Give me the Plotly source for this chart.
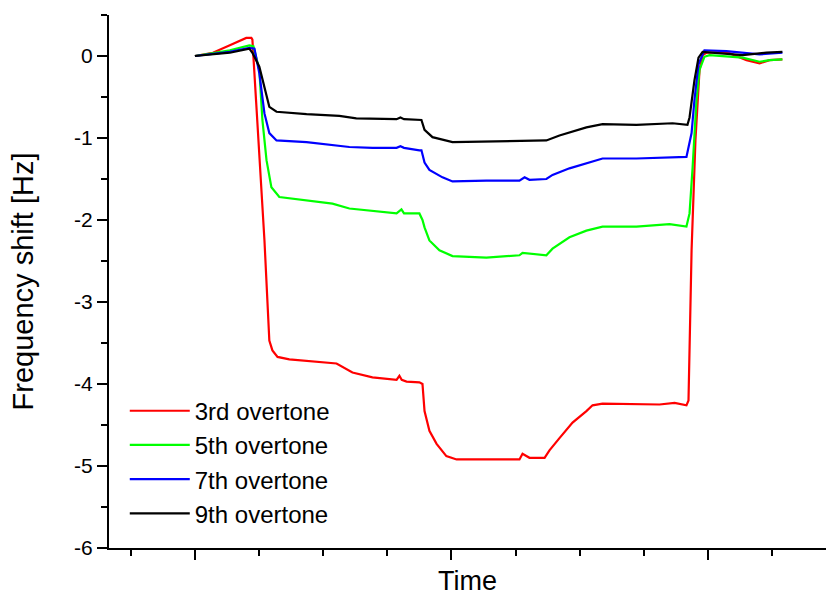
import plotly.graph_objects as go

# Time axis (arbitrary units; major ticks every 100, no labels shown)
t3 = [0, 7, 13.6, 20, 22.0, 22.4, 27.1, 29.0, 30.2, 32.2, 36.8, 43.5, 51.3, 55.2, 61.4, 69.2, 78.6, 79.7, 80.6,
      82.5, 87.5, 88.7, 89.5, 91.4, 94.2, 98.0, 102.0, 113.6, 126.5, 127.7, 130.4, 136.3, 138.2, 142.1, 147.2,
      152.6, 155.0, 158.9, 172.1, 181.1, 187.0, 191.6, 192.4, 193.6, 195.1, 196.7, 197.9, 199.4, 207.2, 215.0,
      220.1, 224.0, 229.0]
f3 = [0, 0.04, 0.13, 0.22, 0.22, 0.20, -2.25, -3.47, -3.59, -3.67, -3.70, -3.72, -3.74, -3.75, -3.86, -3.92,
      -3.95, -3.90, -3.95, -3.97, -3.98, -4.00, -4.33, -4.57, -4.73, -4.88, -4.92, -4.92, -4.92, -4.85, -4.90,
      -4.90, -4.81, -4.66, -4.47, -4.33, -4.26, -4.24, -4.25, -4.25, -4.23, -4.26, -4.20, -2.37, -1.03, -0.17,
      0.01, 0.04, 0.05, -0.05, -0.09, -0.05, -0.04]

t5 = [0, 13.6, 21.2, 22.8, 25.1, 26.3, 27.9, 29.8, 32.9, 43.5, 53.6, 60.2, 69.2, 78.6, 80.5, 81.5, 87.5, 88.7,
      89.5, 91.4, 95.3, 100.4, 113.6, 126.5, 127.7, 137.0, 139.4, 146.0, 152.6, 158.9, 172.1, 185.0, 191.6,
      192.8, 194.0, 195.5, 196.7, 198.6, 200.6, 213.5, 220.1, 224.0, 229.0]
f5 = [0, 0.07, 0.13, 0.12, -0.17, -0.78, -1.27, -1.60, -1.72, -1.76, -1.80, -1.86, -1.89, -1.92, -1.87, -1.92,
      -1.92, -2.00, -2.09, -2.25, -2.37, -2.44, -2.46, -2.43, -2.40, -2.43, -2.35, -2.21, -2.13, -2.08, -2.08,
      -2.05, -2.08, -1.92, -1.36, -0.54, -0.17, -0.01, 0.01, -0.02, -0.07, -0.05, -0.04]

t7 = [0, 13.6, 21.2, 23.2, 25.1, 27.1, 29.0, 31.8, 43.5, 55.2, 60.2, 69.2, 78.6, 80.1, 81.5, 87.5, 88.3, 89.5,
      91.4, 96.5, 100.4, 113.6, 126.5, 128.5, 130.4, 137.0, 139.4, 146.0, 152.6, 158.9, 172.1, 185.0, 191.6,
      193.6, 194.7, 196.3, 198.6, 207.2, 220.1, 229.0]
f7 = [0, 0.05, 0.10, 0.09, -0.21, -0.70, -0.94, -1.03, -1.05, -1.09, -1.11, -1.12, -1.12, -1.10, -1.12, -1.15,
      -1.15, -1.30, -1.39, -1.48, -1.53, -1.52, -1.52, -1.48, -1.51, -1.50, -1.45, -1.37, -1.31, -1.25, -1.25,
      -1.24, -1.23, -0.94, -0.54, -0.10, 0.07, 0.06, 0.02, 0.04]

t9 = [0, 13.6, 21.2, 22.4, 25.1, 27.1, 29.0, 31.8, 43.5, 56.3, 62.9, 78.6, 80.1, 81.5, 88.3, 89.5, 92.6, 100.4,
      126.5, 137.0, 142.1, 152.6, 158.9, 172.1, 186.2, 192.0, 192.8, 194.7, 196.3, 197.9, 213.5, 222.8, 229.0]
f9 = [0, 0.04, 0.09, 0.04, -0.13, -0.38, -0.62, -0.68, -0.71, -0.73, -0.76, -0.77, -0.75, -0.77, -0.78, -0.90,
      -0.99, -1.05, -1.04, -1.03, -0.97, -0.87, -0.83, -0.84, -0.82, -0.84, -0.75, -0.30, -0.02, 0.05, 0.01,
      0.04, 0.05]

names = ["3rd overtone", "5th overtone", "7th overtone", "9th overtone"]
colors = ["#FF0000", "#00FF00", "#0000FF", "#000000"]
series = [(t3, f3), (t5, f5), (t7, f7), (t9, f9)]

y_tickvals = [-6, -5, -4, -3, -2, -1, 0]
y_ticktext = ["-6", "-5", "-4", "-3", "-2", "-1", "0"]

FONT = "Liberation Sans, Arial, sans-serif"

fig = go.Figure()
for (t, f), n, c in zip(series, names, colors):
    fig.add_trace(go.Scatter(x=t, y=f, mode="lines", name=n,
                             line=dict(color=c, width=2.2)))

fig.update_layout(
    width=827, height=596,
    margin=dict(l=109, r=1, t=15, b=48),
    paper_bgcolor="white", plot_bgcolor="white",
    font=dict(family=FONT, color="black"),
    showlegend=True,
    legend=dict(x=0.022, y=0.299, xanchor="left", yanchor="top",
                bgcolor="rgba(0,0,0,0)", font=dict(size=24, family=FONT),
                tracegroupgap=0, itemwidth=60, traceorder="normal"),
    xaxis=dict(range=[-33.5, 246], showgrid=False, zeroline=False, automargin=False,
               showline=True, linecolor="black", linewidth=2,
               ticks="outside", tickmode="linear", tick0=0, dtick=100,
               ticklen=10, tickwidth=2, tickcolor="black", showticklabels=False,
               minor=dict(ticks="outside", tickmode="linear", tick0=0, dtick=25,
                          ticklen=6, tickwidth=2, tickcolor="black", showgrid=False),
               title=dict(text="Time", font=dict(size=27, family=FONT), standoff=25)),
    yaxis=dict(range=[-6, 0.5], showgrid=False, zeroline=False, automargin=False,
               showline=True, linecolor="black", linewidth=2,
               ticks="outside", tickmode="array", tickvals=y_tickvals, ticktext=y_ticktext,
               ticklen=10, tickwidth=2, tickcolor="black",
               tickfont=dict(size=21, family=FONT),
               minor=dict(ticks="outside", tickmode="linear", tick0=0, dtick=0.5,
                          ticklen=6, tickwidth=2, tickcolor="black", showgrid=False),
               title=dict(text="Frequency shift [Hz]", font=dict(size=29, family=FONT), standoff=32)),
)

fig.write_html("out.html")
